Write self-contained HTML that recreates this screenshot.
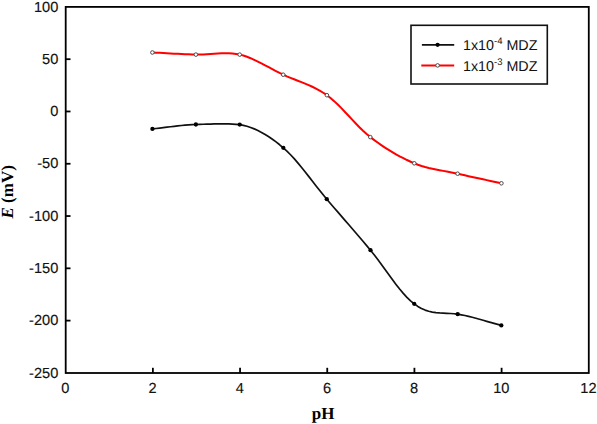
<!DOCTYPE html>
<html><head><meta charset="utf-8"><style>
html,body{margin:0;padding:0;background:#fff;}
body{width:597px;height:424px;overflow:hidden;}
svg{display:block;} text{text-rendering:geometricPrecision;}
</style></head><body>
<svg width="597" height="424" viewBox="0 0 597 424">
<rect x="0" y="0" width="597" height="424" fill="#fff"/>
<g fill="none" stroke="#000" stroke-width="1.8">
<rect x="65.70" y="6.90" width="523.08" height="366.10"/>
<line x1="65.70" y1="59.19" x2="70.50" y2="59.19"/><line x1="65.70" y1="111.47" x2="70.50" y2="111.47"/><line x1="65.70" y1="163.76" x2="70.50" y2="163.76"/><line x1="65.70" y1="216.04" x2="70.50" y2="216.04"/><line x1="65.70" y1="268.32" x2="70.50" y2="268.32"/><line x1="65.70" y1="320.61" x2="70.50" y2="320.61"/>
<line x1="152.88" y1="373" x2="152.88" y2="367.8"/><line x1="240.06" y1="373" x2="240.06" y2="367.8"/><line x1="327.24" y1="373" x2="327.24" y2="367.8"/><line x1="414.42" y1="373" x2="414.42" y2="367.8"/><line x1="501.60" y1="373" x2="501.60" y2="367.8"/>
</g>
<path d="M152.40,52.50 L156.02,52.68 L159.65,52.87 L163.27,53.07 L166.89,53.28 L170.51,53.48 L174.13,53.68 L177.75,53.87 L181.38,54.06 L185.00,54.22 L188.63,54.37 L192.26,54.50 L195.90,54.60 L199.54,54.61 L203.19,54.49 L206.84,54.28 L210.49,54.01 L214.14,53.73 L217.80,53.48 L221.46,53.28 L225.11,53.19 L228.76,53.24 L232.41,53.46 L236.06,53.90 L239.70,54.60 L243.33,55.57 L246.97,56.78 L250.59,58.20 L254.21,59.80 L257.84,61.53 L261.46,63.37 L265.08,65.28 L268.70,67.23 L272.32,69.18 L275.94,71.09 L279.57,72.95 L283.20,74.70 L286.84,76.33 L290.48,77.85 L294.12,79.30 L297.76,80.71 L301.41,82.13 L305.06,83.59 L308.70,85.12 L312.35,86.77 L315.99,88.56 L319.63,90.54 L323.27,92.74 L326.90,95.20 L330.53,97.99 L334.14,101.13 L337.76,104.54 L341.37,108.16 L344.97,111.94 L348.58,115.79 L352.19,119.67 L355.80,123.50 L359.41,127.23 L363.04,130.78 L366.66,134.09 L370.30,137.10 L373.95,139.88 L377.61,142.56 L381.27,145.12 L384.95,147.58 L388.63,149.93 L392.31,152.17 L395.99,154.30 L399.66,156.32 L403.34,158.23 L407.00,160.03 L410.66,161.72 L414.30,163.30 L417.93,164.72 L421.55,165.96 L425.16,167.03 L428.77,167.97 L432.37,168.79 L435.96,169.54 L439.56,170.22 L443.16,170.88 L446.76,171.53 L450.36,172.20 L453.98,172.91 L457.60,173.70 L461.23,174.53 L464.87,175.35 L468.51,176.16 L472.16,176.96 L475.81,177.76 L479.47,178.55 L483.12,179.34 L486.78,180.13 L490.44,180.92 L494.09,181.71 L497.75,182.50 L501.40,183.30" fill="none" stroke="#ff0000" stroke-width="2.0" stroke-linejoin="round"/>
<path d="M152.40,128.90 L156.02,128.51 L159.65,128.09 L163.27,127.65 L166.89,127.20 L170.51,126.75 L174.13,126.31 L177.75,125.89 L181.38,125.51 L185.00,125.16 L188.63,124.87 L192.26,124.65 L195.90,124.50 L199.54,124.39 L203.18,124.26 L206.83,124.14 L210.49,124.03 L214.14,123.94 L217.79,123.88 L221.45,123.85 L225.10,123.87 L228.76,123.95 L232.41,124.09 L236.06,124.30 L239.70,124.60 L243.34,125.31 L246.98,126.26 L250.62,127.46 L254.25,128.89 L257.89,130.54 L261.52,132.41 L265.15,134.49 L268.78,136.78 L272.41,139.26 L276.04,141.93 L279.67,144.78 L283.30,147.80 L286.93,151.10 L290.55,154.74 L294.18,158.68 L297.80,162.86 L301.42,167.24 L305.04,171.76 L308.67,176.38 L312.29,181.05 L315.91,185.72 L319.54,190.33 L323.17,194.84 L326.80,199.20 L330.43,203.46 L334.07,207.69 L337.71,211.92 L341.35,216.13 L344.99,220.35 L348.64,224.56 L352.28,228.79 L355.93,233.02 L359.57,237.28 L363.21,241.55 L366.86,245.86 L370.50,250.20 L374.14,254.71 L377.79,259.48 L381.43,264.43 L385.07,269.47 L388.72,274.54 L392.36,279.54 L396.01,284.40 L399.65,289.04 L403.29,293.38 L406.93,297.34 L410.57,300.84 L414.20,303.80 L417.83,306.43 L421.46,308.49 L425.09,310.07 L428.71,311.23 L432.33,312.05 L435.96,312.59 L439.58,312.93 L443.20,313.15 L446.82,313.31 L450.45,313.49 L454.07,313.77 L457.70,314.20 L461.33,314.80 L464.96,315.52 L468.59,316.34 L472.23,317.23 L475.86,318.20 L479.49,319.21 L483.13,320.26 L486.76,321.32 L490.40,322.38 L494.03,323.42 L497.67,324.44 L501.30,325.40" fill="none" stroke="#111" stroke-width="1.7" stroke-linejoin="round"/>
<circle cx="152.40" cy="52.50" r="1.8" fill="#fff" stroke="#444" stroke-width="0.95"/><circle cx="195.90" cy="54.60" r="1.8" fill="#fff" stroke="#444" stroke-width="0.95"/><circle cx="239.70" cy="54.60" r="1.8" fill="#fff" stroke="#444" stroke-width="0.95"/><circle cx="283.20" cy="74.70" r="1.8" fill="#fff" stroke="#444" stroke-width="0.95"/><circle cx="326.90" cy="95.20" r="1.8" fill="#fff" stroke="#444" stroke-width="0.95"/><circle cx="370.30" cy="137.10" r="1.8" fill="#fff" stroke="#444" stroke-width="0.95"/><circle cx="414.30" cy="163.30" r="1.8" fill="#fff" stroke="#444" stroke-width="0.95"/><circle cx="457.60" cy="173.70" r="1.8" fill="#fff" stroke="#444" stroke-width="0.95"/><circle cx="501.40" cy="183.30" r="1.8" fill="#fff" stroke="#444" stroke-width="0.95"/>
<circle cx="152.40" cy="128.90" r="2.15" fill="#000"/><circle cx="195.90" cy="124.50" r="2.15" fill="#000"/><circle cx="239.70" cy="124.60" r="2.15" fill="#000"/><circle cx="283.30" cy="147.80" r="2.15" fill="#000"/><circle cx="326.80" cy="199.20" r="2.15" fill="#000"/><circle cx="370.50" cy="250.20" r="2.15" fill="#000"/><circle cx="414.20" cy="303.80" r="2.15" fill="#000"/><circle cx="457.70" cy="314.20" r="2.15" fill="#000"/><circle cx="501.30" cy="325.40" r="2.15" fill="#000"/>
<g font-family="Liberation Sans, sans-serif" font-size="14.6" fill="#111" stroke="#111" stroke-width="0.15" text-rendering="geometricPrecision">
<text transform="translate(58.3,11.50) scale(1.0,1)" text-anchor="end">100</text><text transform="translate(58.3,63.79) scale(1.0,1)" text-anchor="end">50</text><text transform="translate(58.3,116.07) scale(1.0,1)" text-anchor="end">0</text><text transform="translate(58.3,168.36) scale(1.0,1)" text-anchor="end">-50</text><text transform="translate(58.3,220.64) scale(1.0,1)" text-anchor="end">-100</text><text transform="translate(58.3,272.93) scale(1.0,1)" text-anchor="end">-150</text><text transform="translate(58.3,325.21) scale(1.0,1)" text-anchor="end">-200</text><text transform="translate(58.3,377.50) scale(1.0,1)" text-anchor="end">-250</text>
<text transform="translate(65.40,393.0) scale(1.0,1)" text-anchor="middle">0</text><text transform="translate(152.58,393.0) scale(1.0,1)" text-anchor="middle">2</text><text transform="translate(239.76,393.0) scale(1.0,1)" text-anchor="middle">4</text><text transform="translate(326.94,393.0) scale(1.0,1)" text-anchor="middle">6</text><text transform="translate(414.12,393.0) scale(1.0,1)" text-anchor="middle">8</text><text transform="translate(501.30,393.0) scale(1.0,1)" text-anchor="middle">10</text><text transform="translate(588.48,393.0) scale(1.0,1)" text-anchor="middle">12</text>
</g>
<text x="323.2" y="419.2" text-anchor="middle" font-family="Liberation Serif, serif" font-weight="bold" font-size="17" fill="#000">pH</text>
<text transform="translate(13.1,191.8) rotate(-90)" text-anchor="middle" font-family="Liberation Serif, serif" font-weight="bold" font-size="17" fill="#000"><tspan font-style="italic">E</tspan> (mV)</text>
<rect x="411" y="25.3" width="136.3" height="58.7" fill="#fff" stroke="#111" stroke-width="1.6"/>
<line x1="421.9" y1="44.8" x2="454.2" y2="44.8" stroke="#111" stroke-width="1.7"/>
<circle cx="437.60" cy="44.80" r="2.15" fill="#000"/>
<line x1="421.3" y1="65.4" x2="454.2" y2="65.4" stroke="#ff0000" stroke-width="2.0"/>
<circle cx="437.60" cy="65.40" r="1.8" fill="#fff" stroke="#444" stroke-width="0.95"/>
<g font-family="Liberation Sans, sans-serif" font-size="14.3" fill="#111">
<text x="463" y="50.1">1x10<tspan font-size="9.5" dy="-6.3">-4</tspan><tspan dy="6.3"> MDZ</tspan></text>
<text x="463" y="71.0">1x10<tspan font-size="9.5" dy="-6.3">-3</tspan><tspan dy="6.3"> MDZ</tspan></text>
</g>
</svg>
</body></html>
